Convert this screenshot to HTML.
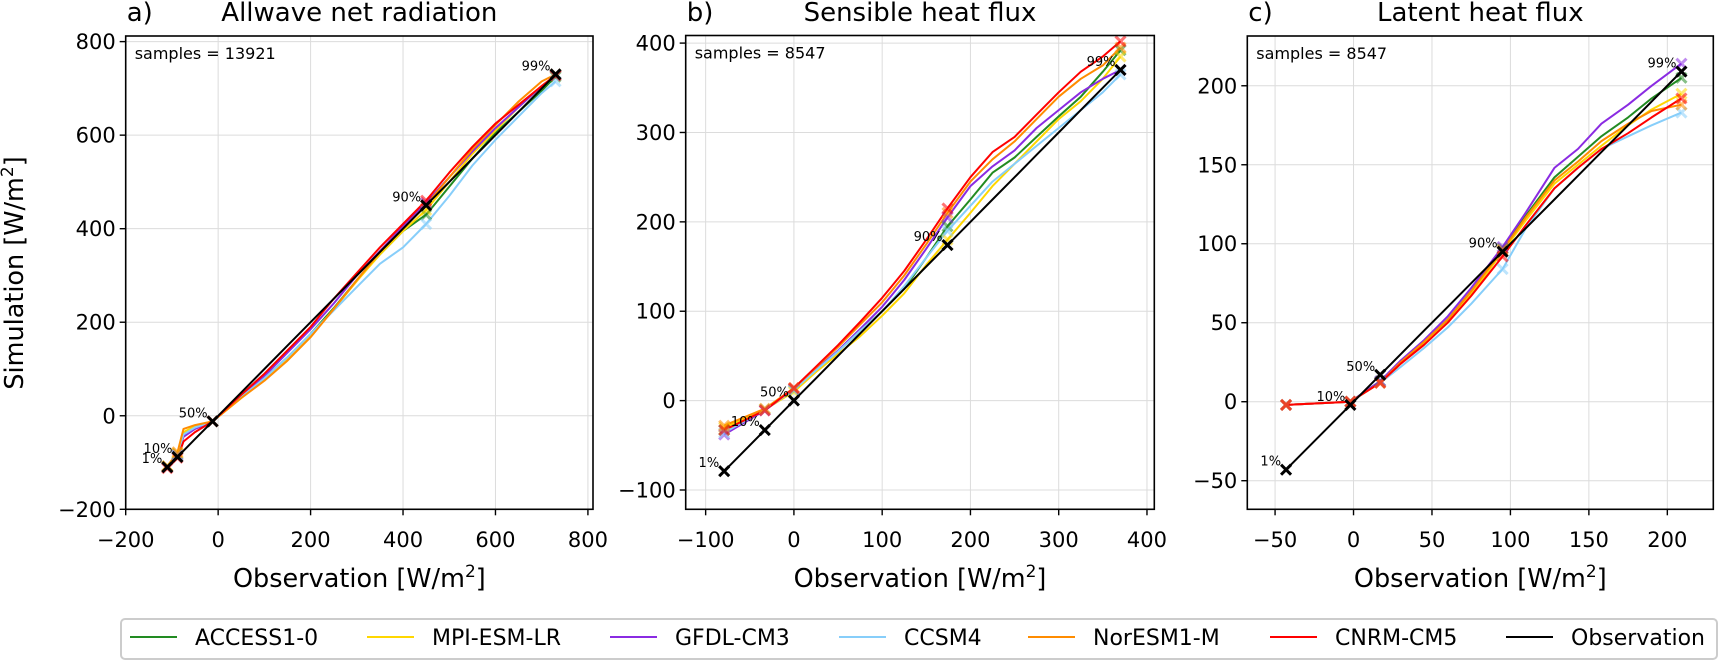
<!DOCTYPE html>
<html><head><meta charset="utf-8"><style>
html,body{margin:0;padding:0;background:#fff;}
svg{display:block;font-family:"DejaVu Sans","Liberation Sans",sans-serif;}
</style></head><body>
<svg id="chart" width="1720" height="661" viewBox="0 0 1720 661" xmlns="http://www.w3.org/2000/svg">
<rect width="1720" height="661" fill="#fff"/>
<text transform="translate(23,273) rotate(-90)" text-anchor="middle" font-size="25.5">Simulation [W/m<tspan font-size="17" dy="-10">2</tspan><tspan dy="10">]</tspan></text>
<g id="legend">
<rect x="121" y="619" width="1596" height="40" rx="4" fill="#fff" stroke="#cccccc" stroke-width="2"/>
</g>
</svg>
<script>
const models = ["ACCESS1-0","MPI-ESM-LR","GFDL-CM3","CCSM4","NorESM1-M","CNRM-CM5"];
const modelColors = ["#228b22","#ffd700","#8a2be2","#87cefa","#ff8c00","#ff0000"];
const pctLabels = ["1%","10%","50%","90%","99%"];

// Panel a: Allwave net radiation
const obsA = [-110,-88,-75,-50,-12,50,100,150,200,250,300,350,400,450,500,550,600,650,700,730];
const pctIdxA = [0,1,4,13,19];
const accessA = [-108,-82,-40,-25,-12,40,80,125,175,230,290,345,395,430,490,550,605,650,695,725];
const mpiA = [-108,-80,-35,-22,-12,38,78,120,170,228,288,345,395,440,500,560,610,660,705,728];
const gfdlA = [-110,-84,-45,-28,-12,42,85,135,185,240,300,352,405,455,510,565,615,660,705,728];
const ccsmA = [-110,-85,-40,-25,-12,40,80,125,175,225,275,325,360,410,470,535,590,640,690,715];
const noresmA = [-108,-78,-28,-20,-12,38,75,118,168,228,290,350,400,450,510,570,622,672,715,730];
const cnrmA = [-112,-90,-55,-35,-12,45,90,140,190,250,305,360,410,460,520,575,625,665,705,728];
const ticksA = [-200,0,200,400,600,800];

// Panel b: Sensible heat flux
const obsB = [-79,-33,0,25,50,75,100,125,150,174,200,225,250,275,300,325,350,370];
const pctIdxB = [0,1,2,9,17];
const accessB = [-33,-10,12,35,55,78,100,125,160,195,225,255,272,295,318,340,368,392];
const mpiB = [-30,-10,10,32,52,72,95,120,152,180,210,240,265,290,315,335,360,385];
const gfdlB = [-38,-11,13,35,56,80,105,135,170,205,240,262,280,305,325,345,360,370];
const ccsmB = [-36,-10,12,34,55,78,100,128,160,190,218,245,265,285,305,325,345,365];
const noresmB = [-28,-9,14,37,60,85,110,140,175,210,245,270,290,315,340,360,375,395];
const cnrmB = [-33,-11,14,38,62,88,115,145,180,215,250,278,295,320,345,368,385,402];
const ticksB = [-100,0,100,200,300,400];

// Panel c: Latent heat flux
const obsC = [-43,-2,17,30,45,60,75,95,110,128,143,158,175,190,209];
const pctIdxC = [0,1,2,7,14];
const accessC = [-2,0,13,25,38,52,70,97,118,142,155,168,180,192,205];
const mpiC = [-2,0,12,24,37,50,68,95,115,138,150,162,175,185,195];
const gfdlC = [-2,0,13,26,39,54,72,98,120,148,160,176,188,200,214];
const ccsmC = [-2,0,12,22,34,47,62,84,110,135,148,160,168,175,183];
const noresmC = [-2,0,12,25,38,52,70,96,117,140,152,165,176,184,188];
const cnrmC = [-2,0,12,24,36,50,67,92,112,135,148,160,170,180,192];
const ticksXC = [-50,0,50,100,150,200];
const ticksYC = [-50,0,50,100,150,200];

const panels = [
 {id:"a", title:"Allwave net radiation", samples:"samples = 13921", box:[125.7,593,36,509.3], xlim:[-200,811], ylim:[-200,812],
  obs:obsA, pct:pctIdxA, series:[accessA,mpiA,gfdlA,ccsmA,noresmA,cnrmA], xt:ticksA, yt:ticksA},
 {id:"b", title:"Sensible heat flux", samples:"samples = 8547", box:[685.7,1154.3,35.5,509.3], xlim:[-122.6,408.3], ylim:[-121.6,408.5],
  obs:obsB, pct:pctIdxB, series:[accessB,mpiB,gfdlB,ccsmB,noresmB,cnrmB], xt:ticksB, yt:ticksB},
 {id:"c", title:"Latent heat flux", samples:"samples = 8547", box:[1247.3,1713.3,36,509.3], xlim:[-67.7,229.3], ylim:[-68.1,231.5],
  obs:obsC, pct:pctIdxC, series:[accessC,mpiC,gfdlC,ccsmC,noresmC,cnrmC], xt:ticksXC, yt:ticksYC}
];

const NS = "http://www.w3.org/2000/svg";
const svg = document.getElementById("chart");
function mk(tag, attrs, parent){ const e=document.createElementNS(NS,tag); for(const k in attrs) e.setAttribute(k,attrs[k]); (parent||svg).appendChild(e); return e; }
function fmt(v){ return v<0 ? "\u2212"+Math.abs(v) : String(v); }
function cross(g,x,y,col,op,sz){
  return mk("path",{d:`M${x-sz},${y-sz}L${x+sz},${y+sz}M${x-sz},${y+sz}L${x+sz},${y-sz}`,stroke:col,"stroke-width":3,"stroke-opacity":op,fill:"none"},g);
}

panels.forEach(P=>{
  const [L,R,T,B] = P.box;
  const sx = v => L + (v-P.xlim[0])/(P.xlim[1]-P.xlim[0])*(R-L);
  const sy = v => B - (v-P.ylim[0])/(P.ylim[1]-P.ylim[0])*(B-T);
  const g = mk("g",{});
  
  
  P.xt.forEach(t=>{ const l=mk("line",{x1:sx(t),x2:sx(t),y1:T,y2:B,stroke:"#dcdcdc","stroke-width":1},g);
    
     });
  P.yt.forEach(t=>{ const l=mk("line",{x1:L,x2:R,y1:sy(t),y2:sy(t),stroke:"#dcdcdc","stroke-width":1},g);
    
     });
  P.series.forEach((s,i)=>{
    const d = s.map((v,j)=>(j?"L":"M")+sx(P.obs[j]).toFixed(1)+","+sy(v).toFixed(1)).join("");
    const pl = mk("path",{d:d,stroke:modelColors[i],"stroke-width":2,fill:"none","stroke-linejoin":"round"},g);
    
    
  });
  P.series.forEach((s,i)=>{
    P.pct.forEach(k=>{ const c=cross(g,sx(P.obs[k]),sy(s[k]),modelColors[i],0.55,5);
      
       });
  });
  const od = P.obs.map((v,j)=>(j?"L":"M")+sx(v).toFixed(1)+","+sy(v).toFixed(1)).join("");
  const ol = mk("path",{d:od,stroke:"#000","stroke-width":2,fill:"none"},g);
  
  
  P.pct.forEach((k,n)=>{
    const x=sx(P.obs[k]), y=sy(P.obs[k]);
    const c=cross(g,x,y,"#000",1,5);
    
    
    const t=mk("text",{x:x-5,y:y-4,"text-anchor":"end","font-size":13,fill:"#000"},g);
    t.textContent = pctLabels[n];
    
    
  });
  const sp = mk("rect",{x:L,y:T,width:R-L,height:B-T,fill:"none",stroke:"#000","stroke-width":1.6},g);
  
  
  P.xt.forEach(t=>{
    mk("line",{x1:sx(t),x2:sx(t),y1:B,y2:B+6,stroke:"#000","stroke-width":1.4},g);
    const tx=mk("text",{x:sx(t),y:547,"text-anchor":"middle","font-size":21},g);
    tx.textContent=fmt(t);
    
    
  });
  P.yt.forEach(t=>{
    mk("line",{x1:L-6,x2:L,y1:sy(t),y2:sy(t),stroke:"#000","stroke-width":1.4},g);
    const ty=mk("text",{x:L-10,y:sy(t)+7.5,"text-anchor":"end","font-size":21},g);
    ty.textContent=fmt(t);
    
    
  });
  const pl=mk("text",{x:L+1,y:21,"font-size":26},g);
  pl.textContent=P.id+")";
  
  
  const tt=mk("text",{x:(L+R)/2,y:21,"text-anchor":"middle","font-size":26},g);
  tt.textContent=P.title;
  
  
  const sm=mk("text",{x:L+9,y:T+23,"font-size":16},g);
  sm.textContent=P.samples;
  
  
  const xl=mk("text",{x:(L+R)/2,y:587,"text-anchor":"middle","font-size":25.5},g);
  xl.innerHTML='Observation [W/m<tspan font-size="17" dy="-10">2</tspan><tspan dy="10">]</tspan>';
  
  
});

const legendNames = models.concat(["Observation"]);
const legendColors = modelColors.concat(["#000"]);
const legendLineX = [130,367,610,839,1028,1270,1506];
const lg = document.getElementById("legend");
legendNames.forEach((n,i)=>{
  const e = mk("g",{},lg);
  
  
  mk("line",{x1:legendLineX[i],x2:legendLineX[i]+47,y1:637,y2:637,stroke:legendColors[i],"stroke-width":2},e);
  const t = mk("text",{x:legendLineX[i]+65,y:645,"font-size":22},e);
  t.textContent = n;
});
</script>
</body></html>
